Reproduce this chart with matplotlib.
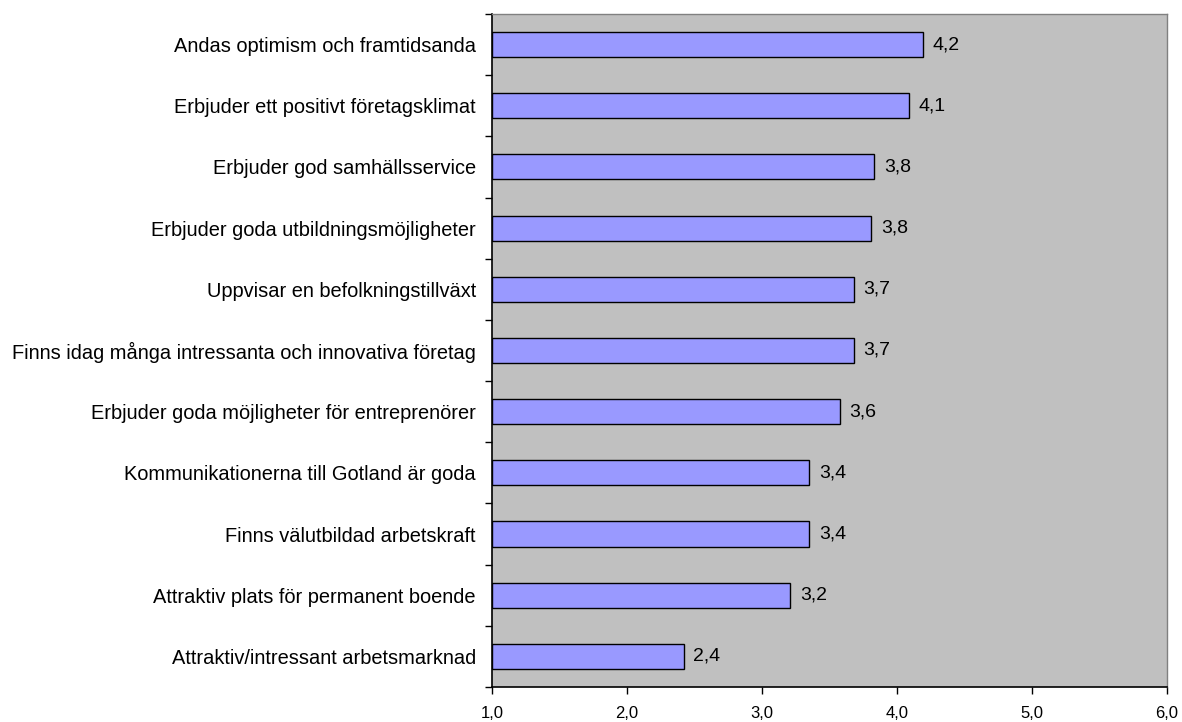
import matplotlib
matplotlib.use("Agg")
import matplotlib.pyplot as plt
import numpy as np

categories = [
    "Andas optimism och framtidsanda",
    "Erbjuder ett positivt företagsklimat",
    "Erbjuder god samhällsservice",
    "Erbjuder goda utbildningsmöjligheter",
    "Uppvisar en befolkningstillväxt",
    "Finns idag många intressanta och innovativa företag",
    "Erbjuder goda möjligheter för entreprenörer",
    "Kommunikationerna till Gotland är goda",
    "Finns välutbildad arbetskraft",
    "Attraktiv plats för permanent boende",
    "Attraktiv/intressant arbetsmarknad",
]
values = [4.19, 4.09, 3.83, 3.81, 3.68, 3.68, 3.575, 3.35, 3.35, 3.21, 2.42]
xticks = [1.0, 2.0, 3.0, 4.0, 5.0, 6.0]

plt.rcParams['font.family'] = ['Liberation Sans', 'DejaVu Sans']

fig = plt.figure(figsize=(11.82, 7.22), dpi=100)
ax = fig.add_axes([0.4162, 0.0485, 0.9873 - 0.4162, 0.9806 - 0.0485])
ax.set_facecolor('#C0C0C0')

n = len(categories)
y = np.arange(n)[::-1]
base = 1.0
ax.barh(y, [v - base for v in values], left=base, height=0.41,
        color='#9999FF', edgecolor='black', linewidth=1.0, zorder=3)

for yi, v in zip(y, values):
    ax.annotate(f"{v:.1f}".replace('.', ','), xy=(v, yi), xytext=(7, 0),
                textcoords='offset points', va='center', ha='left', fontsize=14)

ax.set_xlim(1.0, 6.0)
ax.set_ylim(-0.5, n - 0.5)
ax.set_xticks(xticks)
ax.set_xticklabels([f"{t:.1f}".replace('.', ',') for t in xticks], fontsize=12)
ax.set_yticks(y)
ax.set_yticklabels(categories, fontsize=14.4)
ax.tick_params(axis='y', length=0, pad=11.5)
ax.set_yticks(np.arange(-0.5, n, 1.0), minor=True)
ax.tick_params(axis='y', which='minor', length=5, width=1, direction='out')
ax.tick_params(axis='x', length=5, width=1, direction='out', pad=9)

for s in ['left', 'bottom']:
    ax.spines[s].set_color('black')
    ax.spines[s].set_linewidth(1.2)
for s in ['top', 'right']:
    ax.spines[s].set_color('#808080')
    ax.spines[s].set_linewidth(1.0)

fig.savefig('out.png', dpi=100)
